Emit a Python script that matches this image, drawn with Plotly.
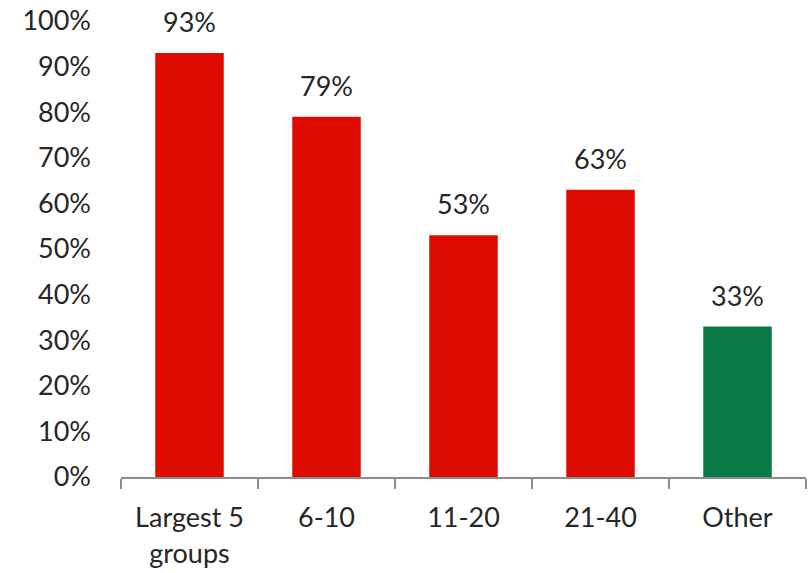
import plotly.graph_objects as go

categories = ["Largest 5<br>groups", "6-10", "11-20", "21-40", "Other"]
values = [0.93, 0.79, 0.53, 0.63, 0.33]
colors = ["#DE0C00", "#DE0C00", "#DE0C00", "#DE0C00", "#097A46"]
tick_vals = [0, 0.1, 0.2, 0.3, 0.4, 0.5, 0.6, 0.7, 0.8, 0.9, 1.0]

FONT = "Lato, Open Sans, sans-serif"
TXT = "#262626"
FS = 27

fig = go.Figure(go.Bar(
    x=categories, y=values, marker=dict(color=colors, line=dict(width=0)),
    width=0.5, showlegend=False, hoverinfo="skip",
))

for c, v in zip(categories, values):
    fig.add_annotation(x=c, y=v, text=f"{round(v*100)}%", showarrow=False,
                       yanchor="bottom", yshift=13,
                       font=dict(family=FONT, size=FS, color=TXT))

fig.update_layout(
    width=808, height=573,
    margin=dict(l=121, r=2, t=21, b=96),
    plot_bgcolor="white", paper_bgcolor="white",
    bargap=0.5,
    font=dict(family=FONT, size=FS, color=TXT),
)
fig.update_xaxes(
    showline=True, linecolor="#8C8C8C", linewidth=2,
    ticks="outside", tickson="boundaries", ticklen=10, tickcolor="#8C8C8C", tickwidth=2,
    showgrid=False, tickfont=dict(family=FONT, size=FS, color=TXT),
    ticklabelstandoff=16,
)
fig.update_yaxes(
    range=[0, 1.0], tickvals=tick_vals, tickformat=".0%",
    showgrid=False, showline=False, zeroline=False, ticks="",
    ticklabelstandoff=29, tickfont=dict(family=FONT, size=FS, color=TXT),
)

fig.write_html("out.html")
